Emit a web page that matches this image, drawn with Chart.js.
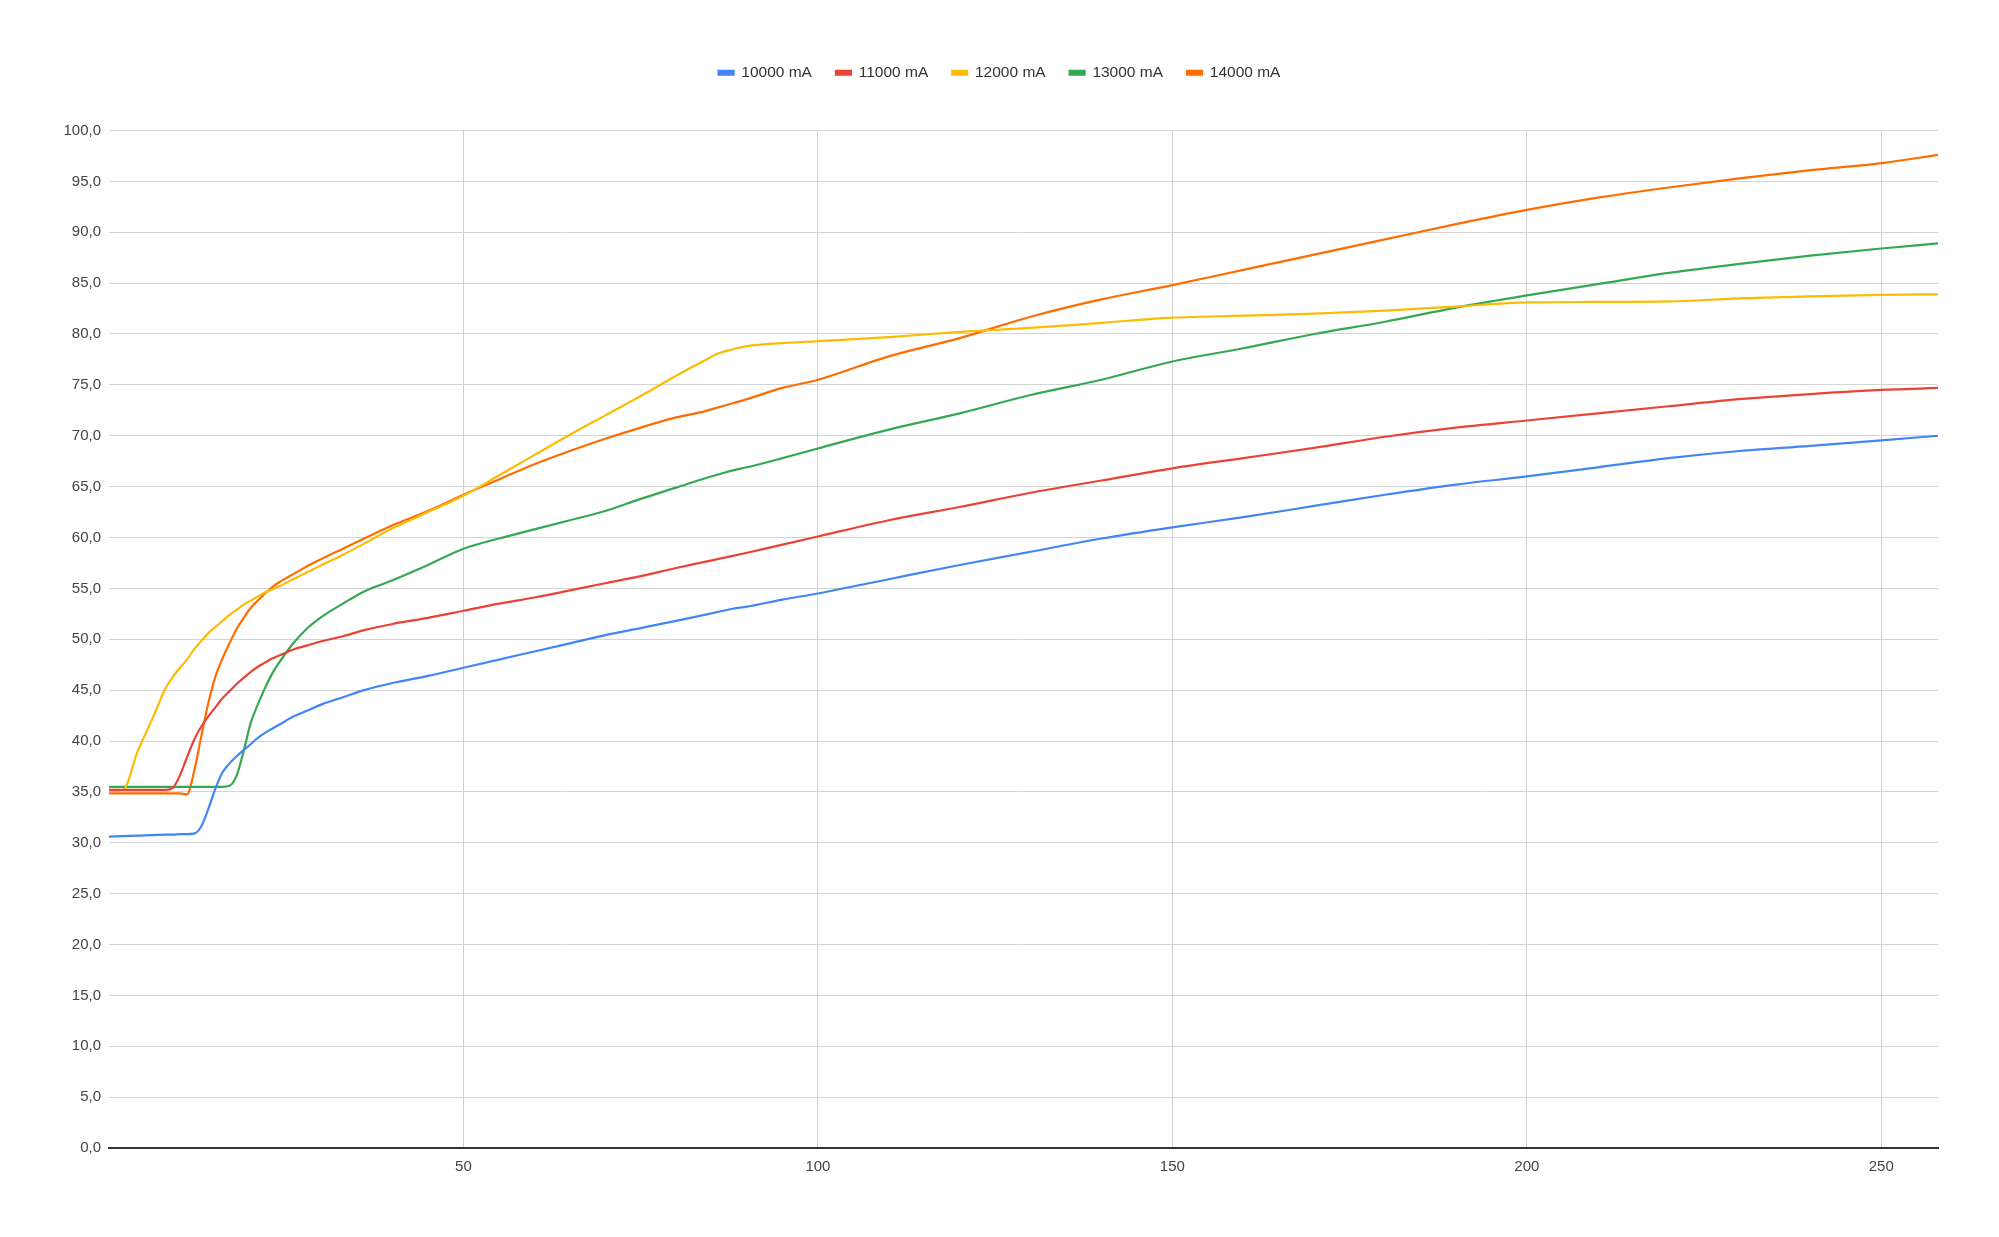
<!DOCTYPE html>
<html>
<head>
<meta charset="utf-8">
<script src="https://cdn.jsdelivr.net/npm/chart.js@4"></script>
<style>
  html, body { margin: 0; padding: 0; background: #fff; }
  #wrap { width: 1999px; height: 1237px; position: relative; }
</style>
</head>
<body>
<div id="wrap"><canvas id="tempChart"></canvas></div>
<script>
// x positions shared by all series
const xValues = [0, 2, 4, 6, 8, 9, 10, 11, 12, 13, 14, 15, 16, 17, 18, 19, 20, 21, 22, 23, 24, 26, 28, 30, 33, 36, 40, 45, 50, 55, 60, 65, 70, 75, 80, 84, 86, 88, 90, 95, 100, 110, 120, 130, 140, 150, 160, 170, 180, 190, 200, 210, 220, 230, 240, 250, 258];

const seriesNames = ["10000 mA", "11000 mA", "12000 mA", "13000 mA", "14000 mA"];
const seriesColors = ["#4285F4", "#EA4335", "#FBBC04", "#34A853", "#FF6D01"];

const s10000 = [30.6, 30.65, 30.7, 30.75, 30.8, 30.8, 30.85, 30.85, 30.9, 31.6, 33.3, 35.3, 36.9, 37.8, 38.5, 39.1, 39.7, 40.3, 40.8, 41.2, 41.6, 42.4, 43.0, 43.6, 44.3, 45.0, 45.7, 46.4, 47.2, 48.0, 48.8, 49.6, 50.4, 51.1, 51.8, 52.4, 52.7, 53.0, 53.2, 53.9, 54.5, 55.9, 57.3, 58.6, 59.9, 61.0, 62.0, 63.1, 64.2, 65.2, 66.0, 66.9, 67.8, 68.5, 69.0, 69.55, 70.0];
const s11000 = [35.2, 35.2, 35.2, 35.2, 35.2, 35.4, 36.6, 38.4, 40.1, 41.4, 42.4, 43.3, 44.2, 44.9, 45.6, 46.2, 46.8, 47.3, 47.7, 48.1, 48.4, 49.0, 49.4, 49.8, 50.3, 50.9, 51.5, 52.1, 52.8, 53.5, 54.1, 54.8, 55.5, 56.2, 57.0, 57.6, 57.9, 58.2, 58.5, 59.3, 60.1, 61.7, 63.0, 64.4, 65.6, 66.8, 67.8, 68.8, 69.9, 70.8, 71.5, 72.2, 72.9, 73.6, 74.1, 74.5, 74.7];
const s12000 = [35.1, 35.2, 38.9, 42.0, 45.2, 46.3, 47.2, 48.0, 49.0, 49.8, 50.6, 51.2, 51.8, 52.4, 52.9, 53.4, 53.8, 54.2, 54.6, 54.9, 55.2, 55.9, 56.6, 57.3, 58.3, 59.4, 60.9, 62.5, 64.1, 66.1, 68.1, 70.1, 72.0, 73.9, 75.9, 77.4, 78.1, 78.5, 78.8, 79.1, 79.3, 79.7, 80.2, 80.6, 81.1, 81.6, 81.8, 82.0, 82.3, 82.7, 83.1, 83.15, 83.2, 83.5, 83.7, 83.85, 83.9];
const s13000 = [35.5, 35.5, 35.5, 35.5, 35.5, 35.5, 35.5, 35.5, 35.5, 35.5, 35.5, 35.5, 35.5, 35.6, 36.6, 39.0, 41.8, 43.6, 45.2, 46.6, 47.7, 49.6, 51.1, 52.2, 53.5, 54.7, 55.8, 57.3, 58.9, 59.9, 60.8, 61.7, 62.6, 63.8, 64.9, 65.8, 66.2, 66.6, 66.9, 67.8, 68.75, 70.6, 72.2, 74.0, 75.5, 77.3, 78.6, 80.0, 81.2, 82.6, 83.8, 84.9, 86.0, 86.9, 87.7, 88.4, 88.9];
const s14000 = [34.85, 34.85, 34.85, 34.85, 34.85, 34.85, 34.85, 34.75, 37.0, 40.4, 43.7, 46.3, 48.1, 49.6, 51.0, 52.1, 53.1, 53.8, 54.5, 55.1, 55.6, 56.4, 57.2, 57.9, 58.9, 59.9, 61.2, 62.6, 64.2, 65.7, 67.2, 68.5, 69.7, 70.8, 71.8, 72.4, 72.8, 73.2, 73.6, 74.7, 75.5, 77.8, 79.6, 81.7, 83.4, 84.8, 86.3, 87.8, 89.3, 90.8, 92.2, 93.4, 94.4, 95.3, 96.1, 96.8, 97.6];

const allSeries = [s10000, s11000, s12000, s13000, s14000];

const xTicks = [50, 100, 150, 200, 250];

Chart.defaults.font.family = "'Liberation Sans', Arial, sans-serif";

// extra gap between legend and plot
const legendGap = {
  id: "legendGap",
  beforeInit(chart) {
    const fit = chart.legend.fit;
    chart.legend.fit = function () {
      fit.bind(chart.legend)();
      this.height += 40;
    };
  }
};

const datasets = allSeries.map((vals, i) => ({
  label: seriesNames[i],
  data: vals.map((v, j) => ({ x: xValues[j], y: v })),
  borderColor: seriesColors[i],
  backgroundColor: seriesColors[i],
  borderWidth: 2.2,
  pointRadius: 0,
  cubicInterpolationMode: "monotone"
}));

new Chart(document.getElementById("tempChart"), {
  type: "line",
  data: { datasets: datasets },
  plugins: [legendGap],
  options: {
    responsive: true,
    maintainAspectRatio: false,
    animation: false,
    layout: { padding: { top: 41, right: 61, left: 61, bottom: 0 } },
    plugins: {
      tooltip: { enabled: false },
      legend: {
        position: "top",
        labels: {
          boxWidth: 15,
          boxHeight: 4,
          padding: 24,
          color: "#333",
          font: { size: 15.5 }
        }
      }
    },
    scales: {
      x: {
        type: "linear",
        min: 0,
        max: 258,
        afterFit: s => { s.height = 89; },
        afterBuildTicks: s => { s.ticks = xTicks.map(v => ({ value: v })); },
        ticks: { padding: 10, color: "#444", font: { size: 15 }, maxRotation: 0 },
        grid: { drawTicks: false, color: "#d0d0d0", lineWidth: 1 },
        border: { color: "#333", width: 2 }
      },
      y: {
        min: 0,
        max: 100,
        afterFit: s => { s.width = 48; },
        ticks: {
          stepSize: 5,
          padding: 8,
          color: "#444",
          font: { size: 15 },
          callback: v => v.toFixed(1).replace(".", ",")
        },
        grid: { drawTicks: false, color: "#d4d4d4", lineWidth: 1 },
        border: { display: false }
      }
    }
  }
});
</script>
</body>
</html>
